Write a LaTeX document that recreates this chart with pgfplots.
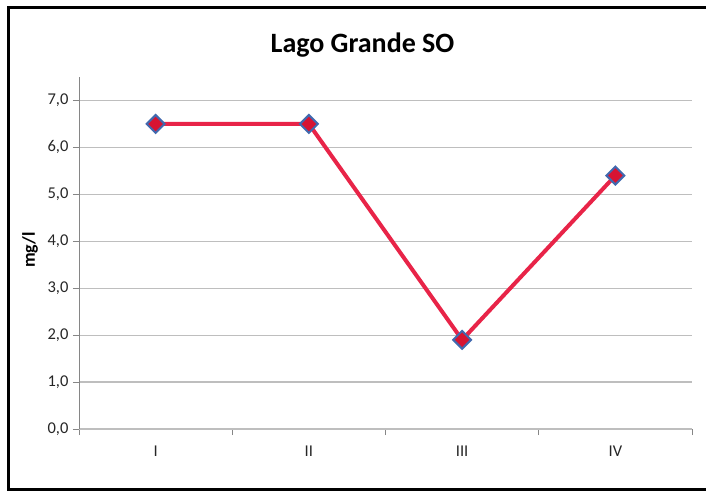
\documentclass[border=0pt]{standalone}
\usepackage{pgfplots}
\pgfplotsset{compat=1.18}
\usepackage{fontspec}
\setmainfont{Carlito}
\definecolor{linered}{RGB}{232,36,72}
\definecolor{mkblue}{RGB}{65,105,175}
\definecolor{mkred}{RGB}{215,20,50}
\definecolor{gridgray}{RGB}{190,190,190}
\definecolor{axgray}{RGB}{134,134,134}
\begin{document}
\begin{tikzpicture}[x=1pt,y=1pt]
\begin{axis}[
  at={(0,0)}, anchor=south west,
  scale only axis, width=613pt, height=352pt,
  xmin=-0.5, xmax=3.5, ymin=0, ymax=7.5,
  axis x line*=bottom, axis y line*=left,
  x axis line style={draw=gridgray, line width=1.2pt, -},
  y axis line style={draw=axgray, line width=1pt, -},
  xtick={0,1,2,3}, xticklabels={I,II,III,IV},
  minor xtick={-0.5,0.5,1.5,2.5,3.5},
  major x tick style={draw=none},
  minor x tick style={draw=axgray, line width=1pt},
  minor tick length=6pt,
  ytick={0,1,...,7},
  major y tick style={draw=axgray, line width=1pt},
  major tick length=6pt,
  tick align=outside,
  ymajorgrids, major grid style={draw=gridgray, line width=1.2pt},
  yticklabel={\pgfmathprintnumber[fixed,fixed zerofill,precision=1,use comma]{\tick}},
  /pgf/number format/assume math mode=true,
  ticklabel style={font=\fontsize{16.5}{19}\selectfont, text=black!85},
  y tick label style={xshift=-1pt},
  x tick label style={yshift=-7pt},
  clip=false,
]
\addplot[linered, line width=4pt, mark=square*, mark size=6.3pt,
  mark options={rotate=45, fill=mkred, draw=mkblue, line width=2pt}]
  coordinates {(0,6.5) (1,6.5) (2,1.9) (3,5.4)};
\end{axis}
\node[font=\fontsize{28}{32}\selectfont\bfseries] at (283.5,384) {Lago Grande SO};
\node[font=\fontsize{18}{20}\selectfont\bfseries, rotate=90] at (-49,179) {mg/l};
\draw[line width=3.5pt, black] (627,421.5) -- (-70.5,421.5) -- (-70.5,-60.5) -- (627,-60.5);
\pgfresetboundingbox
\path[use as bounding box] (-79,-62) rectangle (627,429);
\end{tikzpicture}
\end{document}
